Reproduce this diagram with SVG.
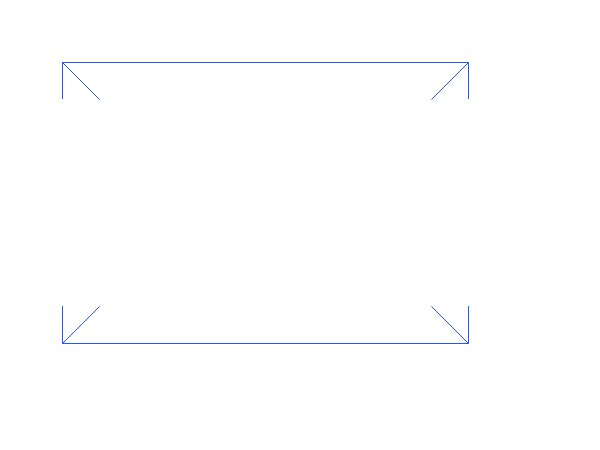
<svg xmlns="http://www.w3.org/2000/svg" width="600" height="450" viewBox="0 0 600 450">
<style>
.l{stroke:#2255ff;stroke-width:1;fill:none}
</style>
<rect width="600" height="450" fill="#fff"/>
<path class="l" d="M62.5 62.5H468.5M62.5 343.5H468.5M62.5 62.5V99M468.5 62.5V99M62.5 343.5V306M468.5 343.5V306"/>
<path class="l" d="M62.5 62.5L99.5 99.5M468.5 62.5L431.5 99.5M62.5 343.5L99.5 306.5M468.5 343.5L431.5 306.5"/>
</svg>
